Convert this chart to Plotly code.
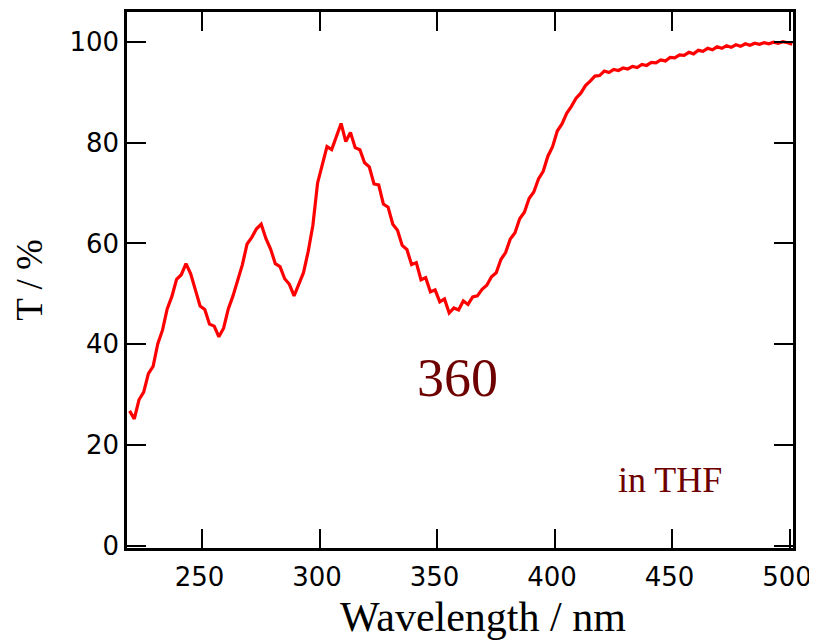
import plotly.graph_objects as go

wavelength = [219, 221, 223, 225, 227, 229, 231, 233, 235, 237, 239, 241, 243, 245, 247, 249,
              251, 253, 255, 257, 259, 261, 263, 265, 267, 269, 271, 273, 275, 277, 279, 281,
              283, 285, 287, 289, 291, 293, 295, 297, 299, 301, 303, 305, 307, 309, 311, 313,
              315, 317, 319, 321, 323, 325, 327, 329, 331, 333, 335, 337, 339, 341, 343, 345,
              347, 349, 351, 353, 355, 357, 359, 361, 363, 365, 367, 369, 371, 373, 375, 377,
              379, 381, 383, 385, 387, 389, 391, 393, 395, 397, 399, 401, 403, 405, 407, 409,
              411, 413, 415, 417, 419, 421, 423, 425, 427, 429, 431, 433, 435, 437, 439, 441,
              443, 445, 447, 449, 451, 453, 455, 457, 459, 461, 463, 465, 467, 469, 471, 473,
              475, 477, 479, 481, 483, 485, 487, 489, 491, 493, 495, 497, 499, 501]

transmittance = [26.8, 25.2, 29.0, 30.5, 34.2, 35.6, 40.1, 42.8, 47.0, 49.5, 52.9, 53.8, 56.0, 54.0, 50.8, 47.6,
                 46.9, 44.0, 43.6, 41.5, 43.2, 47.0, 49.6, 53.0, 55.8, 59.9, 61.2, 62.9, 63.8, 61.0, 58.9, 56.0,
                 55.4, 53.0, 51.9, 49.6, 51.8, 54.2, 58.4, 63.6, 72.0, 75.6, 79.2, 78.6, 81.0, 83.8, 80.2, 82.0,
                 79.0, 78.6, 76.0, 75.2, 71.8, 71.6, 67.8, 67.2, 63.8, 62.6, 59.6, 58.8, 55.8, 56.2, 52.8, 53.2,
                 50.4, 50.8, 48.4, 49.0, 46.2, 47.2, 46.8, 48.6, 47.9, 49.4, 49.6, 50.9, 51.7, 53.4, 54.2, 56.8,
                 58.2, 60.9, 62.1, 64.9, 66.2, 68.9, 70.2, 72.8, 74.3, 77.3, 79.2, 82.3, 83.7, 85.8, 87.2, 88.8,
                 89.8, 91.3, 92.2, 93.2, 93.3, 94.2, 93.9, 94.5, 94.3, 94.8, 94.6, 95.1, 94.9, 95.5, 95.3, 95.9,
                 95.8, 96.4, 96.2, 96.9, 96.8, 97.4, 97.3, 97.9, 97.6, 98.3, 98.1, 98.7, 98.4, 99.0, 98.7, 99.2,
                 98.9, 99.4, 99.1, 99.6, 99.3, 99.7, 99.5, 99.8, 99.6, 99.9, 99.7, 100.0, 99.8, 99.5]

x_ticks = [250, 300, 350, 400, 450, 500]
y_ticks = [0, 20, 40, 60, 80, 100]

fig = go.Figure()
fig.add_trace(go.Scatter(x=wavelength, y=transmittance, mode="lines",
                         line=dict(color="#ff0000", width=3.2), showlegend=False))

axis_common = dict(showline=True, linewidth=2.5, linecolor="black", mirror="ticks",
                   ticks="inside", ticklen=19, tickwidth=2, tickcolor="black",
                   showgrid=False, zeroline=False, automargin=False,
                   ticklabeloverflow="allow",
                   tickfont=dict(family="DejaVu Sans, sans-serif", size=26, color="black"))

fig.update_xaxes(range=[217.9, 501.3], tickvals=x_ticks, ticktext=[str(v) for v in x_ticks],
                 ticklabelstandoff=4, ticklabelshift=-3,
                 **axis_common)
fig.update_yaxes(range=[-0.4, 105.9], tickvals=y_ticks, ticktext=[str(v) for v in y_ticks],
                 title=dict(text="T / %",
                            font=dict(family="Liberation Serif, serif", size=37, color="black"),
                            standoff=16),
                 **axis_common)

# x-axis title (placed as annotation: it sits right of the plot centre in the reference)
fig.add_annotation(xref="paper", yref="paper", x=0.5345, y=-0.128, xanchor="center", yanchor="middle",
                   text="Wavelength / nm", showarrow=False, borderpad=0,
                   font=dict(family="Liberation Serif, serif", size=42, color="black"))

fig.add_annotation(x=358.6, y=33.3, text="360", showarrow=False,
                   font=dict(family="Liberation Serif, serif", size=54, color="#6e0000"))
fig.add_annotation(x=448.8, y=13.1, text="in THF", showarrow=False,
                   font=dict(family="Liberation Serif, serif", size=36, color="#6e0000"))

# page body has an 8px margin, so the figure is sized/placed to compensate
fig.update_layout(width=809, height=635, margin=dict(l=119, r=24, t=4, b=95),
                  plot_bgcolor="white", paper_bgcolor="white")

fig.write_html("out.html")
